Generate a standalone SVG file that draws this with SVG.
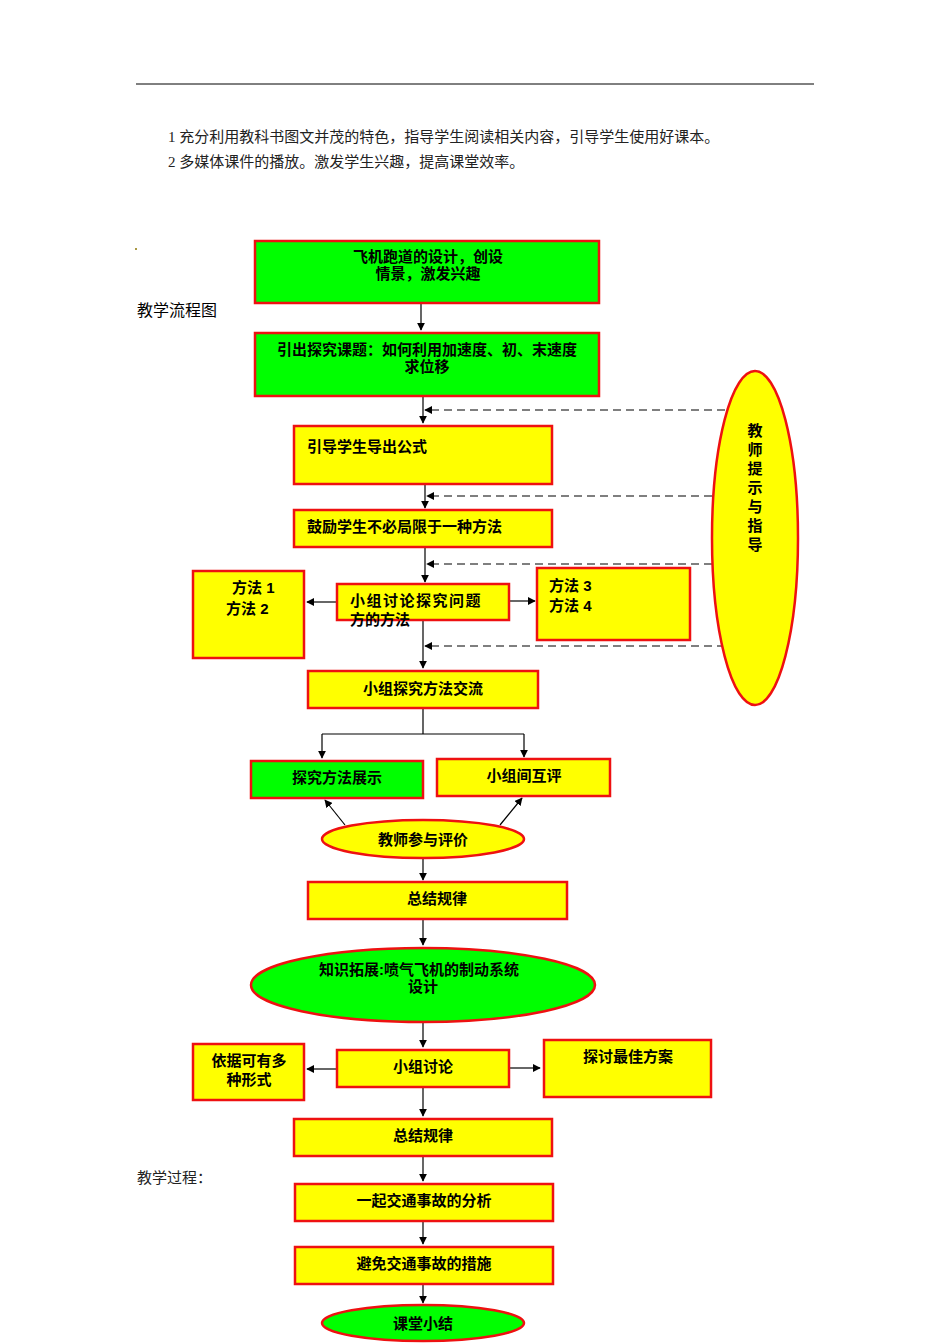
<svg xmlns="http://www.w3.org/2000/svg" width="950" height="1344" viewBox="0 0 950 1344">
<style>
.y{fill:#ffff00;stroke:#ee1111;stroke-width:2.5}
.g{fill:#00ff00;stroke:#ee1111;stroke-width:2.5}
.t{font-family:"Liberation Sans","Noto Sans CJK SC",sans-serif;font-size:15px;font-weight:bold;fill:#000}
.c{text-anchor:middle}
.s{font-family:"Liberation Serif","Noto Sans CJK SC",serif;font-size:15px;fill:#222}
.l{stroke:#000;stroke-width:1.2;fill:none}
.a{marker-end:url(#ar)}
.d{stroke-dasharray:8,5}
</style>
<defs><marker id="ar" viewBox="0 0 10 10" refX="9" refY="5" markerWidth="8" markerHeight="8" orient="auto" markerUnits="userSpaceOnUse"><path d="M0,0L10,5L0,10z" fill="#000"/></marker></defs>
<line x1="136" y1="84" x2="814" y2="84" stroke="#000" stroke-width="1"/>
<text class="s" x="168" y="142">1 充分利用教科书图文并茂的特色，指导学生阅读相关内容，引导学生使用好课本。</text>
<text class="s" x="168" y="167">2 多媒体课件的播放。激发学生兴趣，提高课堂效率。</text>
<rect x="135" y="248" width="2" height="2" fill="#aa9944"/>
<text class="t" x="137" y="316" style="font-weight:normal;font-size:16px">教学流程图</text>
<text class="s" x="137" y="1183">教学过程：</text>
<g id="connectors">
<path class="l a" d="M421,303V330"/>
<path class="l a" d="M423,396V423"/>
<path class="l a" d="M425,484V508"/>
<path class="l a" d="M425,547V582"/>
<path class="l a" d="M423,620V668"/>
<path class="l a d" d="M725,410H425"/>
<path class="l a d" d="M725,496H427"/>
<path class="l a d" d="M725,564H427"/>
<path class="l a d" d="M725,646H425"/>
<path class="l a" d="M337,602H307"/>
<path class="l a" d="M509,601H535"/>
<path class="l" d="M423,708V734M322,734H524"/>
<path class="l a" d="M322,734V758"/>
<path class="l a" d="M524,734V757"/>
<path class="l a" d="M345,825L325,800"/>
<path class="l a" d="M500,825L522,798"/>
<path class="l a" d="M423,858V880"/>
<path class="l a" d="M423,919V945"/>
<path class="l a" d="M423,1022V1047"/>
<path class="l a" d="M337,1069H307"/>
<path class="l a" d="M509,1068H540"/>
<path class="l a" d="M423,1087V1116"/>
<path class="l a" d="M423,1156V1181"/>
<path class="l a" d="M423,1221V1244"/>
<path class="l a" d="M423,1284V1303"/>
</g>
<g id="n1"><rect class="g" x="255" y="241" width="344" height="62"/><text class="t c" x="428" y="262">飞机跑道的设计，创设</text><text class="t c" x="428" y="279">情景，激发兴趣</text></g>
<g id="n2"><rect class="g" x="255" y="333" width="344" height="63"/><text class="t c" x="427" y="355">引出探究课题：如何利用加速度、初、末速度</text><text class="t c" x="427" y="372">求位移</text></g>
<g id="n3"><rect class="y" x="294" y="426" width="258" height="58"/><text class="t" x="307" y="452">引导学生导出公式</text></g>
<g id="n4"><rect class="y" x="294" y="510" width="258" height="37"/><text class="t" x="307" y="532">鼓励学生不必局限于一种方法</text></g>
<g id="n5"><rect class="y" x="193" y="571" width="111" height="87"/><text class="t" x="232" y="593">方法 1</text><text class="t" x="226" y="614">方法 2</text></g>
<g id="n6"><rect class="y" x="337" y="584" width="172" height="36"/><text class="t" x="350" y="606" style="letter-spacing:1.5px">小组讨论探究问题</text><text class="t" x="350" y="625">方的方法</text></g>
<g id="n7"><rect class="y" x="537" y="568" width="153" height="72"/><text class="t" x="549" y="591">方法 3</text><text class="t" x="549" y="611">方法 4</text></g>
<g id="n8"><rect class="y" x="308" y="671" width="230" height="37"/><text class="t c" x="423" y="694">小组探究方法交流</text></g>
<g id="n9"><rect class="g" x="251" y="761" width="172" height="37"/><text class="t c" x="337" y="783">探究方法展示</text></g>
<g id="n10"><rect class="y" x="437" y="759" width="173" height="37"/><text class="t c" x="524" y="781">小组间互评</text></g>
<g id="n11"><ellipse class="y" cx="423" cy="839" rx="101" ry="19"/><text class="t c" x="423" y="845">教师参与评价</text></g>
<g id="n12"><rect class="y" x="308" y="882" width="259" height="37"/><text class="t c" x="437" y="904">总结规律</text></g>
<g id="n13"><ellipse class="g" cx="423" cy="985" rx="172" ry="37"/><text class="t c" x="419" y="975">知识拓展:喷气飞机的制动系统</text><text class="t c" x="423" y="992">设计</text></g>
<g id="n14"><rect class="y" x="193" y="1044" width="111" height="56"/><text class="t c" x="249" y="1066">依据可有多</text><text class="t c" x="249" y="1085">种形式</text></g>
<g id="n15"><rect class="y" x="337" y="1050" width="172" height="37"/><text class="t c" x="423" y="1072">小组讨论</text></g>
<g id="n16"><rect class="y" x="544" y="1040" width="167" height="57"/><text class="t c" x="628" y="1062">探讨最佳方案</text></g>
<g id="n17"><rect class="y" x="294" y="1119" width="258" height="37"/><text class="t c" x="423" y="1141">总结规律</text></g>
<g id="n18"><rect class="y" x="295" y="1184" width="258" height="37"/><text class="t c" x="424" y="1206">一起交通事故的分析</text></g>
<g id="n19"><rect class="y" x="295" y="1247" width="258" height="37"/><text class="t c" x="424" y="1269">避免交通事故的措施</text></g>
<g id="n20"><ellipse class="g" cx="423" cy="1323" rx="101" ry="18"/><text class="t c" x="423" y="1329">课堂小结</text></g>
<g id="n21"><ellipse class="y" cx="755" cy="538" rx="43" ry="167"/>
<text class="t c" x="755" y="436">教</text><text class="t c" x="755" y="455">师</text><text class="t c" x="755" y="474">提</text><text class="t c" x="755" y="493">示</text><text class="t c" x="755" y="512">与</text><text class="t c" x="755" y="531">指</text><text class="t c" x="755" y="550">导</text></g>
</svg>
